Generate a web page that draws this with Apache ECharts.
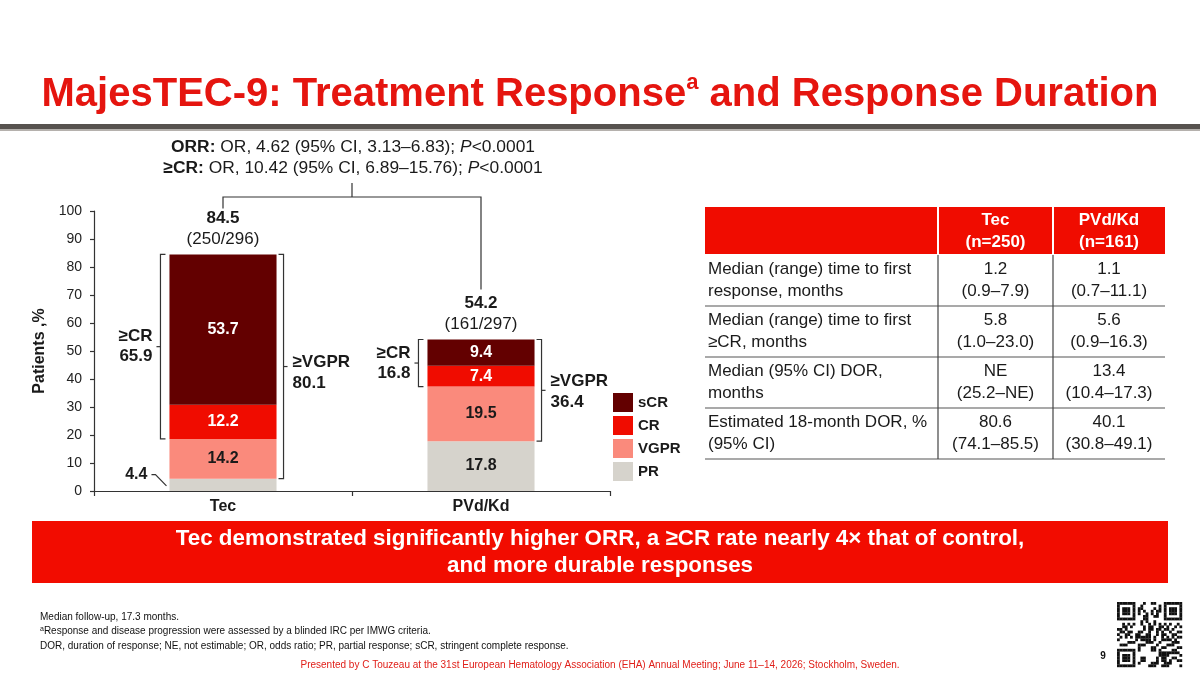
<!DOCTYPE html>
<html><head><meta charset="utf-8">
<script src="https://cdn.jsdelivr.net/npm/echarts@6/dist/echarts.min.js"></script>
<style>html,body{margin:0;padding:0;background:#fff}#c{width:1200px;height:675px}</style>
</head><body><div id="c"></div>
<script>
// ---- data ----
const categories = ['Tec', 'PVd/Kd'];
const seriesNames = ['PR', 'VGPR', 'CR', 'sCR'];
const legendOrder = ['sCR', 'CR', 'VGPR', 'PR'];
const prValues = [4.4, 17.8];
const vgprValues = [14.2, 19.5];
const crValues = [12.2, 7.4];
const scrValues = [53.7, 9.4];
const orrLabels = ['84.5', '54.2'];
const orrCounts = ['(250/296)', '(161/297)'];
const geCrLabels = ['65.9', '16.8'];
const geVgprLabels = ['80.1', '36.4'];
const yMin = 0, yMax = 100, yInterval = 10;
const statLines = [
  ['ORR:', ' OR, 4.62 (95% CI, 3.13–6.83); ', 'P', '<0.0001'],
  ['≥CR:', ' OR, 10.42 (95% CI, 6.89–15.76); ', 'P', '<0.0001']
];
const tableHeader = ['', 'Tec\n(n=250)', 'PVd/Kd\n(n=161)'];
const tableRows = [
  ['Median (range) time to first\nresponse, months', '1.2\n(0.9–7.9)', '1.1\n(0.7–11.1)'],
  ['Median (range) time to first\n≥CR, months', '5.8\n(1.0–23.0)', '5.6\n(0.9–16.3)'],
  ['Median (95% CI) DOR,\nmonths', 'NE\n(25.2–NE)', '13.4\n(10.4–17.3)'],
  ['Estimated 18-month DOR, %\n(95% CI)', '80.6\n(74.1–85.5)', '40.1\n(30.8–49.1)']
];
const titleParts = ['MajesTEC-9: Treatment Response', 'a', ' and Response Duration'];
const bannerLines = ['Tec demonstrated significantly higher ORR, a ≥CR rate nearly 4× that of control,', 'and more durable responses'];
const footnotes = ['Median follow-up, 17.3 months.', 'Response and disease progression were assessed by a blinded IRC per IMWG criteria.', 'DOR, duration of response; NE, not estimable; OR, odds ratio; PR, partial response; sCR, stringent complete response.'];
const presenterLine = 'Presented by C Touzeau at the 31st European Hematology Association (EHA) Annual Meeting; June 11–14, 2026; Stockholm, Sweden.';
const pageNumber = '9';

// ---- styles ----
const F = "'Liberation Sans', Arial, sans-serif";
const segColors = { PR: '#d6d3cc', VGPR: '#fa8a7c', CR: '#f00c00', sCR: '#630000' };
const labelColors = { PR: '#1a1a1a', VGPR: '#1a1a1a', CR: '#ffffff', sCR: '#ffffff' };
const seriesData = { PR: prValues, VGPR: vgprValues, CR: crValues, sCR: scrValues };
const INK = '#1a1a1a';
const RED = '#f00c00';
const BAR_W = 0.415;

const chart = echarts.init(document.getElementById('c'), null, { renderer: 'canvas' });

function renderAnno(params, api) {
  const i = api.value(0);
  const pr = prValues[i], vg = vgprValues[i], cr = crValues[i], sc = scrValues[i];
  const top = pr + vg + cr + sc;
  const cx = api.coord([i, 0])[0];
  const y0 = api.coord([i, 0])[1];
  const yTop = api.coord([i, top])[1];
  const yPr = api.coord([i, pr])[1];
  const yCr = api.coord([i, pr + vg])[1];
  const band = api.size([1, 0])[0];
  const half = band * BAR_W / 2;
  const ls = { stroke: '#333', lineWidth: 1.2, fill: null };
  const ch = [];
  // >=CR bracket (left)
  const lx = cx - half - 9;
  ch.push({ type: 'polyline', shape: { points: [[lx + 5, yTop], [lx, yTop], [lx, yCr], [lx + 5, yCr]] }, style: ls });
  const lm = (yTop + yCr) / 2;
  ch.push({ type: 'line', shape: { x1: lx, y1: lm, x2: lx - 4, y2: lm }, style: ls });
  ch.push({ type: 'text', style: { text: '≥CR\n' + geCrLabels[i], x: lx - 8, y: lm, align: 'right', verticalAlign: 'middle', font: 'bold 17px ' + F, fill: INK, lineHeight: 20 } });
  // >=VGPR bracket (right)
  const rx = cx + half + 7;
  ch.push({ type: 'polyline', shape: { points: [[rx - 5, yTop], [rx, yTop], [rx, yPr], [rx - 5, yPr]] }, style: ls });
  const rm = (yTop + yPr) / 2;
  ch.push({ type: 'line', shape: { x1: rx, y1: rm, x2: rx + 4, y2: rm }, style: ls });
  ch.push({ type: 'text', style: { text: '≥VGPR\n' + geVgprLabels[i], x: rx + 9, y: rm + (i === 0 ? 6 : 1), align: 'left', verticalAlign: 'middle', font: 'bold 17px ' + F, fill: INK, lineHeight: 21 } });
  // totals
  ch.push({ type: 'text', style: { text: orrLabels[i], x: cx, y: yTop - 36, align: 'center', verticalAlign: 'middle', font: 'bold 17px ' + F, fill: INK } });
  ch.push({ type: 'text', style: { text: orrCounts[i], x: cx, y: yTop - 15, align: 'center', verticalAlign: 'middle', font: '17px ' + F, fill: INK } });
  // small PR segment label outside
  if (pr < 6) {
    const bl = cx - half;
    const ly = yPr - 4;
    ch.push({ type: 'text', style: { text: pr.toFixed(1), x: bl - 22, y: ly, align: 'right', verticalAlign: 'middle', font: 'bold 16px ' + F, fill: INK } });
    ch.push({ type: 'polyline', shape: { points: [[bl - 18, ly], [bl - 14, ly], [bl - 3, (y0 + yPr) / 2 + 1]] }, style: ls });
  }
  // connector between arms
  if (i === 0) {
    const j = 1;
    const top1 = prValues[j] + vgprValues[j] + crValues[j] + scrValues[j];
    const cx1 = api.coord([j, 0])[0];
    const yT1 = api.coord([j, top1])[1];
    const yH = api.coord([0, yMax])[1] - 14;
    ch.push({ type: 'polyline', shape: { points: [[cx, yTop - 46], [cx, yH], [cx1, yH], [cx1, yT1 - 50]] }, style: ls });
    const mx = (cx + cx1) / 2;
    ch.push({ type: 'line', shape: { x1: mx, y1: yH, x2: mx, y2: yH - 14 }, style: ls });
  }
  return { type: 'group', children: ch };
}

// ---- graphics: title, stats, table, banner, footer ----
const graphics = [];
graphics.push({ type: 'text', x: 600, y: 95, style: {
  text: '{t|' + titleParts[0] + '}{s|' + titleParts[1] + '}{t|' + titleParts[2] + '}',
  align: 'center', verticalAlign: 'middle',
  rich: { t: { font: 'bold 40px ' + F, fill: '#e5150f', lineHeight: 46 },
          s: { font: 'bold 22px ' + F, fill: '#e5150f', lineHeight: 40, verticalAlign: 'top' } } } });
graphics.push({ type: 'rect', shape: { x: 0, y: 124, width: 1200, height: 5 }, style: { fill: '#57524f' } });
graphics.push({ type: 'rect', shape: { x: 0, y: 129, width: 1200, height: 2 }, style: { fill: '#b5b1ad' } });

statLines.forEach((s, k) => {
  graphics.push({ type: 'text', x: 353, y: 147 + k * 21, style: {
    text: '{b|' + s[0] + '}{n|' + s[1] + '}{i|' + s[2] + '}{n|' + s[3] + '}',
    align: 'center', verticalAlign: 'middle',
    rich: { b: { font: 'bold 17.4px ' + F, fill: INK }, n: { font: '17.4px ' + F, fill: INK }, i: { font: 'italic 17.4px ' + F, fill: INK } } } });
});

// table
const tX = [705, 938, 1053, 1165];
const hTop = 207, hBot = 254, rowH = 51;
graphics.push({ type: 'rect', shape: { x: tX[0], y: hTop, width: tX[3] - tX[0], height: hBot - hTop }, style: { fill: RED } });
[1, 2].forEach(c => {
  graphics.push({ type: 'line', shape: { x1: tX[c], y1: hTop, x2: tX[c], y2: hBot }, style: { stroke: '#fff', lineWidth: 2 } });
  graphics.push({ type: 'text', x: (tX[c] + tX[c + 1]) / 2, y: (hTop + hBot) / 2 + 1, style: { text: tableHeader[c], align: 'center', verticalAlign: 'middle', font: 'bold 17px ' + F, fill: '#fff', lineHeight: 22 } });
});
const bodyTop = hBot + 1;
const bodyBot = bodyTop + rowH * tableRows.length;
tableRows.forEach((r, k) => {
  const yc = bodyTop + rowH * k + rowH / 2;
  graphics.push({ type: 'text', x: tX[0] + 3, y: yc, style: { text: r[0], align: 'left', verticalAlign: 'middle', font: '17px ' + F, fill: INK, lineHeight: 21.5 } });
  [1, 2].forEach(c => {
    graphics.push({ type: 'text', x: (tX[c] + tX[c + 1]) / 2, y: yc, style: { text: r[c], align: 'center', verticalAlign: 'middle', font: '17px ' + F, fill: INK, lineHeight: 21.5 } });
  });
  const yl = bodyTop + rowH * (k + 1);
  graphics.push({ type: 'line', shape: { x1: tX[0], y1: yl, x2: tX[3], y2: yl }, style: { stroke: '#555', lineWidth: 1.2 } });
});
[1, 2].forEach(c => {
  graphics.push({ type: 'line', shape: { x1: tX[c], y1: bodyTop, x2: tX[c], y2: bodyBot }, style: { stroke: '#444', lineWidth: 1.2 } });
});

// banner
graphics.push({ type: 'rect', shape: { x: 32, y: 521, width: 1136, height: 62 }, style: { fill: '#f20c00' } });
bannerLines.forEach((t, k) => {
  graphics.push({ type: 'text', x: 600, y: 539 + k * 27, style: { text: t, align: 'center', verticalAlign: 'middle', font: 'bold 22.4px ' + F, fill: '#fff' } });
});

// footer
footnotes.forEach((t, k) => {
  const txt = k === 1 ? '{s|a}{n|' + t + '}' : '{n|' + t + '}';
  graphics.push({ type: 'text', x: 40, y: 617 + k * 14.5, style: { text: txt, align: 'left', verticalAlign: 'middle',
    rich: { n: { font: '10px ' + F, fill: '#111' }, s: { font: '7px ' + F, fill: '#111', verticalAlign: 'top', lineHeight: 12 } } } });
});
graphics.push({ type: 'text', x: 600, y: 665, style: { text: presenterLine, align: 'center', verticalAlign: 'middle', font: '10px ' + F, fill: '#e0201a' } });
graphics.push({ type: 'text', x: 1103, y: 656, style: { text: pageNumber, align: 'center', verticalAlign: 'middle', font: 'bold 10px ' + F, fill: '#111' } });

// decorative QR-like code
(function () {
  const N = 25, s = 2.6, ox = 1117, oy = 602;
  const qr = [];
  const finder = (r, c, fr, fc) => {
    const dr = r - fr, dc = c - fc;
    if (dr < 0 || dr > 6 || dc < 0 || dc > 6) return null;
    if (dr === 0 || dr === 6 || dc === 0 || dc === 6) return 1;
    if (dr >= 2 && dr <= 4 && dc >= 2 && dc <= 4) return 1;
    return 0;
  };
  for (let r = 0; r < N; r++) for (let c = 0; c < N; c++) {
    let v = finder(r, c, 0, 0);
    if (v === null) v = finder(r, c, 0, N - 7);
    if (v === null) v = finder(r, c, N - 7, 0);
    if (v === null) {
      if ((r === 7 && c < 8) || (c === 7 && r < 8) || (r === 7 && c > N - 9) || (c === N - 8 && r < 8) || (r === N - 8 && c < 8) || (c === 7 && r > N - 9)) v = 0;
      else v = ((r * 37 + c * 11 + r * c * 5 + (r ^ c)) % 7) < 3 ? 1 : 0;
    }
    if (v) qr.push({ type: 'rect', shape: { x: ox + c * s, y: oy + r * s, width: s + 0.2, height: s + 0.2 }, style: { fill: '#111' } });
  }
  graphics.push({ type: 'group', children: qr });
})();

const option = {
  animation: false,
  backgroundColor: '#fff',
  textStyle: { fontFamily: F },
  grid: { left: 94, right: 590, top: 211, bottom: 184, containLabel: false },
  legend: {
    data: legendOrder, orient: 'vertical', left: 613, top: 393, itemWidth: 20, itemHeight: 19, itemGap: 4,
    icon: 'rect', selectedMode: false, padding: 0,
    textStyle: { fontFamily: F, fontSize: 15, fontWeight: 'bold', color: INK }
  },
  xAxis: {
    type: 'category', data: categories,
    axisLine: { lineStyle: { color: '#333', width: 1.2 } },
    axisTick: { show: true, length: 5, lineStyle: { color: '#333', width: 1.2 } },
    axisLabel: { fontFamily: F, fontSize: 16, fontWeight: 'bold', color: INK, margin: 8 }
  },
  yAxis: {
    type: 'value', min: yMin, max: yMax, interval: yInterval,
    name: 'Patients ,%', nameLocation: 'middle', nameGap: 46,
    nameTextStyle: { fontFamily: F, fontSize: 16, fontWeight: 'bold', color: INK },
    axisLine: { show: true, lineStyle: { color: '#333', width: 1.2 } },
    axisTick: { show: true, length: 4, lineStyle: { color: '#333', width: 1.2 } },
    splitLine: { show: false },
    axisLabel: { fontFamily: F, fontSize: 14, color: '#222', margin: 12 }
  },
  series: seriesNames.map(n => ({
    name: n, type: 'bar', stack: 'resp', barWidth: (BAR_W * 100) + '%',
    data: seriesData[n],
    itemStyle: { color: segColors[n] },
    label: { show: true, position: 'inside', color: labelColors[n], fontFamily: F, fontSize: 16, fontWeight: 'bold',
      formatter: p => (p.value < 6 ? '' : p.value.toFixed(1)) }
  })).concat([{
    type: 'custom', name: 'annotations', silent: true, z: 10,
    data: categories.map((c, i) => [i, 0]), encode: { x: 0, y: 1 },
    renderItem: renderAnno
  }]),
  graphic: graphics
};
chart.setOption(option);
</script>
</body></html>
